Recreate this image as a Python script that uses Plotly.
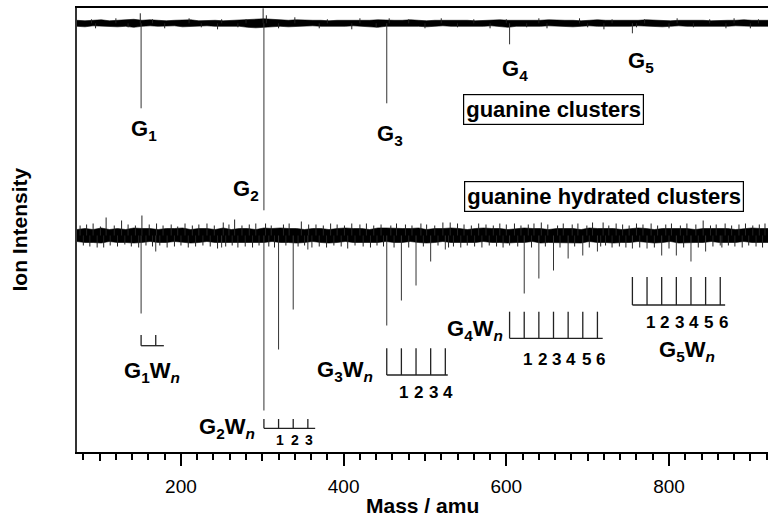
import plotly.graph_objects as go

# ---------------- data ----------------
# sampling grid of the baseline noise envelope (amu)
noise_mass = [72 + 10 * i for i in range(86)]

# top spectrum (guanine clusters): noise envelope above / below baseline
top_noise_up = [3, 2.5, 3, 3.5, 2.5, 3, 3, 4, 3, 3.5,
                3, 2.5, 3, 3, 3.5, 2.5, 3, 3, 2.5, 3,
                3, 3.5, 4, 4.5, 4, 3.5, 3, 3.5, 3, 3,
                3, 2.5, 3, 3, 2.5, 3, 3, 3.5, 3, 3,
                3, 3.5, 3, 2.5, 3, 3, 3.5, 3, 3, 2.5,
                3, 3, 3.5, 3, 3, 2.5, 3, 3, 3.5, 3,
                3, 3, 2.5, 3, 3.5, 3, 3, 2.5, 3, 3,
                3.5, 3, 3, 2.5, 3, 3, 3.5, 3, 2.5, 3,
                3, 3, 3.5, 3, 3, 3]
top_noise_dn = [3, 3.5, 2.5, 3, 3, 3.5, 3, 4, 3, 2.5,
                3, 3, 2.5, 3.5, 3, 3, 2.5, 3, 3, 3.5,
                3, 4, 4.5, 4, 3.5, 3, 3.5, 3, 3, 2.5,
                3, 3, 3.5, 3, 2.5, 3, 3, 4, 3, 3,
                2.5, 3, 3, 3.5, 3, 2.5, 3, 3, 3.5, 3,
                3, 2.5, 3, 4, 3, 3, 3.5, 3, 2.5, 3,
                3, 3.5, 3, 2.5, 3, 3, 3.5, 3, 3, 2.5,
                3, 3, 3.5, 3, 2.5, 3, 3, 3.5, 3, 3,
                3, 2.5, 3, 3, 3, 3]
top_peak_mass = [151, 302, 453, 604, 755]
top_peak_depth = [85, 187, 80, 21, 10]
top_spike_mass = [150, 301, 305, 456, 90, 120, 165, 210, 250, 280, 340, 380, 420,
                  480, 520, 560, 600, 640, 690, 730, 770, 810, 850, 880, 910]
top_spike_height = [10, 15, 8, 5, 4, 5, 4, 5, 4, 4, 6, 4, 5,
                    4, 5, 4, 4, 5, 5, 4, 4, 5, 4, 5, 4]
top_dip_mass = [95, 135, 180, 225, 245, 270, 320, 370, 410, 440, 500,
                540, 580, 625, 650, 700, 720, 760, 800, 830, 870, 900]
top_dip_depth = [5, 4, 5, 4, 6, 4, 5, 5, 6, 4, 5,
                 4, 5, 4, 5, 4, 6, 4, 5, 4, 5, 5]

# bottom spectrum (guanine hydrated clusters)
bot_noise_up = [6, 7, 6, 7.5, 6, 7, 6, 7.5, 7, 7,
                6, 7, 7, 7.5, 6, 7, 7, 6, 7.5, 6,
                7, 7, 6, 7.5, 7, 7.5, 7, 7, 6, 7,
                7, 6, 7, 7.5, 7, 7, 6, 7.5, 7.5, 7,
                7, 7, 7.5, 6, 7, 7, 7.5, 7, 6, 7,
                7.5, 7, 7, 6, 7, 7.5, 7, 7, 6, 7,
                7, 7, 6, 7.5, 7, 7, 7, 6, 7, 7.5,
                7, 6, 7, 7, 7.5, 7, 6, 7, 7, 7,
                7, 6, 7, 7.5, 7, 7]
bot_noise_dn = [6, 7, 7, 7.5, 6, 7, 7, 7.5, 7, 6,
                7, 7, 6, 7, 7.5, 7, 6, 7, 7, 7.5,
                7, 7, 7.5, 7, 6, 7, 7, 7.5, 7, 6,
                7, 7.5, 7, 6, 7, 7, 7.5, 7, 6, 7,
                7, 6, 7, 7.5, 7, 6, 7, 7, 7.5, 7,
                6, 7, 7, 7.5, 7, 7, 6, 7.5, 7, 7,
                7, 7, 7.5, 6, 7, 7, 7.5, 7, 7, 6,
                7, 7.5, 7, 6, 7.5, 7, 7, 7, 6, 7,
                7, 7, 6, 7, 7, 7]
bot_peak_mass = [151, 169, 250, 302, 320, 338, 356, 453, 471, 489, 507, 525,
                 604, 622, 640, 658, 676, 694, 712,
                 755, 773, 791, 809, 827, 845, 863]
bot_peak_depth = [78, 16, 12, 175, 114, 74, 14, 90, 65, 50, 26, 14,
                  10, 58, 43, 35, 23, 20, 16,
                  13, 13, 20, 20, 26, 16, 10]
bot_spike_mass = [76, 84, 92, 101, 108, 118, 127, 135, 144, 152,
                  161, 170, 178, 188, 196, 205, 214, 222, 232, 241,
                  252, 259, 266, 275, 284, 292, 304, 311, 326, 333,
                  348, 357, 366, 375, 384, 392, 401, 410, 420, 428,
                  437, 446, 458, 465, 476, 484, 495, 502, 512, 522,
                  531, 540, 548, 557, 566, 575, 584, 592, 600, 610,
                  618, 627, 634, 643, 651, 663, 670, 681, 688, 699,
                  706, 719, 726, 735, 743, 751, 760, 768, 778, 786,
                  796, 803, 814, 822, 833, 842, 851, 858, 869, 877,
                  886, 894, 903, 911, 918]
bot_spike_height = [10, 11, 12, 9, 18, 10, 15, 11, 10, 20,
                    11, 12, 10, 11, 9, 12, 10, 11, 12, 10,
                    13, 11, 16, 10, 11, 12, 12, 10, 11, 12,
                    14, 11, 11, 10, 12, 11, 10, 12, 11, 12,
                    10, 11, 10, 12, 11, 10, 12, 11, 10, 13,
                    13, 12, 11, 10, 12, 11, 10, 12, 11, 12,
                    10, 11, 12, 13, 11, 10, 12, 11, 12, 10,
                    13, 13, 10, 12, 11, 10, 12, 11, 12, 10,
                    11, 12, 10, 12, 11, 15, 10, 11, 12, 10,
                    11, 12, 10, 11, 12]
bot_dip_mass = [80, 88, 97, 105, 113, 122, 131, 139, 148, 157,
                165, 174, 183, 192, 200, 209, 218, 227, 236, 245,
                255, 263, 270, 279, 288, 296, 308, 315, 329, 344,
                352, 361, 370, 379, 388, 397, 405, 414, 424, 433,
                441, 449, 462, 480, 498, 516, 529, 535, 544, 552,
                561, 570, 579, 588, 596, 614, 631, 648, 666, 684,
                702, 716, 722, 730, 739, 747, 764, 782, 800, 818,
                836, 854, 865, 873, 881, 890, 898, 907, 915]
bot_dip_depth = [10, 11, 12, 12, 10, 11, 9, 11, 12, 10,
                 11, 10, 12, 11, 10, 12, 11, 10, 11, 13,
                 11, 10, 12, 11, 12, 10, 11, 12, 10, 11,
                 10, 12, 11, 12, 10, 11, 13, 10, 11, 12,
                 10, 11, 12, 12, 11, 10, 12, 11, 12, 10,
                 11, 12, 10, 11, 12, 11, 12, 11, 12, 11,
                 12, 11, 10, 12, 11, 12, 12, 12, 13, 12,
                 12, 11, 12, 10, 11, 12, 10, 11, 12]

# cluster series combs (G_n W_k, k = 0..)
g1w_mass = [151, 169]
g2w_mass = [302, 320, 338, 356]
g3w_mass = [453, 471, 489, 507, 525]
g4w_mass = [604, 622, 640, 658, 676, 694, 712]
g5w_mass = [755, 773, 791, 809, 827, 845, 863]

x_tick_vals = [200, 400, 600, 800]
x_tick_text = ["200", "400", "600", "800"]
x_mid_ticks = [100, 300, 500, 700, 900]

# ---------------- layout constants ----------------
X_RANGE = [72.2, 921.7]
Y_RANGE = [0, 444]
TOP_BASE = 428.7
BOT_BASE = 216.5
FONT = "Liberation Sans, Arial, sans-serif"


def stick_xy(base, masses, values, sign):
    xs, ys = [], []
    for m, v in zip(masses, values):
        xs += [m, m, None]
        ys += [base, base + sign * v, None]
    return xs, ys


fig = go.Figure()

# noise bands (filled envelope)
for base, up, dn in [(TOP_BASE, top_noise_up, top_noise_dn),
                     (BOT_BASE, bot_noise_up, bot_noise_dn)]:
    fig.add_trace(go.Scatter(x=noise_mass, y=[base + v for v in up], mode="lines",
                             line=dict(color="black", width=0.6),
                             hoverinfo="skip", showlegend=False))
    fig.add_trace(go.Scatter(x=noise_mass, y=[base - v for v in dn], mode="lines",
                             line=dict(color="black", width=0.6), fill="tonexty",
                             fillcolor="black", hoverinfo="skip", showlegend=False))

# peaks and noise spikes
for base, pm, pd, sm, sh, dm, dd in [
        (TOP_BASE, top_peak_mass, top_peak_depth, top_spike_mass, top_spike_height, top_dip_mass, top_dip_depth),
        (BOT_BASE, bot_peak_mass, bot_peak_depth, bot_spike_mass, bot_spike_height, bot_dip_mass, bot_dip_depth)]:
    px, py = stick_xy(base, pm, pd, -1)
    fig.add_trace(go.Scatter(x=px, y=py, mode="lines",
                             line=dict(color="#333333", width=1),
                             hoverinfo="skip", showlegend=False))
    sx, sy = stick_xy(base, sm, sh, 1)
    fig.add_trace(go.Scatter(x=sx, y=sy, mode="lines",
                             line=dict(color="#222222", width=1),
                             hoverinfo="skip", showlegend=False))
    dx, dy = stick_xy(base, dm, dd, -1)
    fig.add_trace(go.Scatter(x=dx, y=dy, mode="lines",
                             line=dict(color="#222222", width=1),
                             hoverinfo="skip", showlegend=False))

# dummy trace for the secondary (mid-tick) axis
fig.add_trace(go.Scatter(x=[None], y=[None], xaxis="x2", showlegend=False, hoverinfo="skip"))

shapes = []
annotations = []


def comb(masses, y_top, y_bot, ext, lab_y, lab_size, lab_dx):
    line = dict(color="#222222", width=1.3)
    for m in masses:
        shapes.append(dict(type="line", xref="x", yref="y", x0=m, x1=m, y0=y_bot, y1=y_top, line=line))
    shapes.append(dict(type="line", xref="x", yref="y", x0=masses[0], x1=masses[-1] + ext,
                       y0=y_bot, y1=y_bot, line=line))
    if lab_y is not None:
        for k, m in enumerate(masses[1:], start=1):
            annotations.append(dict(x=m + lab_dx, y=lab_y, xref="x", yref="y", text=str(k),
                                    showarrow=False, xanchor="center", yanchor="middle",
                                    font=dict(family=FONT, size=lab_size, color="black", weight="bold")))


comb(g1w_mass, 117, 106.3, 10, None, 0, 0)
comb(g2w_mass, 33, 23.7, 9, 12, 14, 2)
comb(g3w_mass, 103.7, 77, 3, 59.3, 17, 3)
comb(g4w_mass, 140.3, 113.7, 6.5, 92.7, 17, 4)
comb(g5w_mass, 175, 147, 6, 129.3, 17, 4)


def label(text, x, y, xanchor="center", size=22):
    annotations.append(dict(x=x, y=y, xref="x", yref="y", text=text, showarrow=False,
                            xanchor=xanchor, yanchor="middle",
                            font=dict(family=FONT, size=size, color="black", weight="bold")))


label("G<sub>1</sub>", 154.5, 322)
label("G<sub>2</sub>", 279.5, 262)
label("G<sub>3</sub>", 457, 317)
label("G<sub>4</sub>", 610.7, 382)
label("G<sub>5</sub>", 765, 390)

label("G<sub>1</sub>W<sub><i>n</i></sub>", 164, 80.5)
label("G<sub>2</sub>W<sub><i>n</i></sub>", 293, 24, xanchor="right")
label("G<sub>3</sub>W<sub><i>n</i></sub>", 438.5, 81, xanchor="right")
label("G<sub>4</sub>W<sub><i>n</i></sub>", 598.4, 122, xanchor="right")
label("G<sub>5</sub>W<sub><i>n</i></sub>", 822, 101)

for text, x, y in [("guanine clusters", 657.6, 343), ("guanine hydrated clusters", 719.6, 256)]:
    annotations.append(dict(x=x, y=y, xref="x", yref="y", text=text, showarrow=False,
                            xanchor="center", yanchor="middle",
                            bordercolor="black", borderwidth=1.2, borderpad=2, bgcolor="white",
                            font=dict(family=FONT, size=22, color="black", weight="bold")))

# axis titles
annotations.append(dict(x=0.5, y=-0.1216, xref="paper", yref="paper", text="Mass / amu",
                        showarrow=False, xanchor="center", yanchor="middle",
                        font=dict(family=FONT, size=21, color="black", weight="bold")))
annotations.append(dict(x=(19 - 77) / 691, y=(452 - 229.5) / 444, xref="paper", yref="paper",
                        text="Ion Intensity", textangle=-90, showarrow=False,
                        xanchor="center", yanchor="middle",
                        font=dict(family=FONT, size=21, color="black", weight="bold")))

fig.update_layout(
    width=768, height=516,
    margin=dict(l=77, r=0, t=8, b=64),
    paper_bgcolor="white", plot_bgcolor="white",
    showlegend=False,
    shapes=shapes, annotations=annotations,
    xaxis=dict(range=X_RANGE, showgrid=False, zeroline=False,
               showline=True, linecolor="black", linewidth=2, mirror=True,
               tickmode="array", tickvals=x_tick_vals, ticktext=x_tick_text,
               ticks="outside", ticklen=12, tickwidth=1.5, tickcolor="black",
               ticklabelstandoff=4,
               tickfont=dict(family=FONT, size=19, color="black"),
               minor=dict(dtick=20, tick0=0, ticks="outside", ticklen=6, tickwidth=1.5, tickcolor="black")),
    xaxis2=dict(range=X_RANGE, overlaying="x", anchor="y", side="bottom",
                showgrid=False, zeroline=False, showline=False,
                tickmode="array", tickvals=x_mid_ticks, showticklabels=False,
                ticks="outside", ticklen=8, tickwidth=1.5, tickcolor="black"),
    yaxis=dict(range=Y_RANGE, showgrid=False, zeroline=False, showticklabels=False,
               ticks="", showline=True, linecolor="#333333", linewidth=1.8),
)

fig.write_html("out.html", config={"displayModeBar": False},
               post_script="document.body.style.margin='0';document.body.style.padding='0';")
